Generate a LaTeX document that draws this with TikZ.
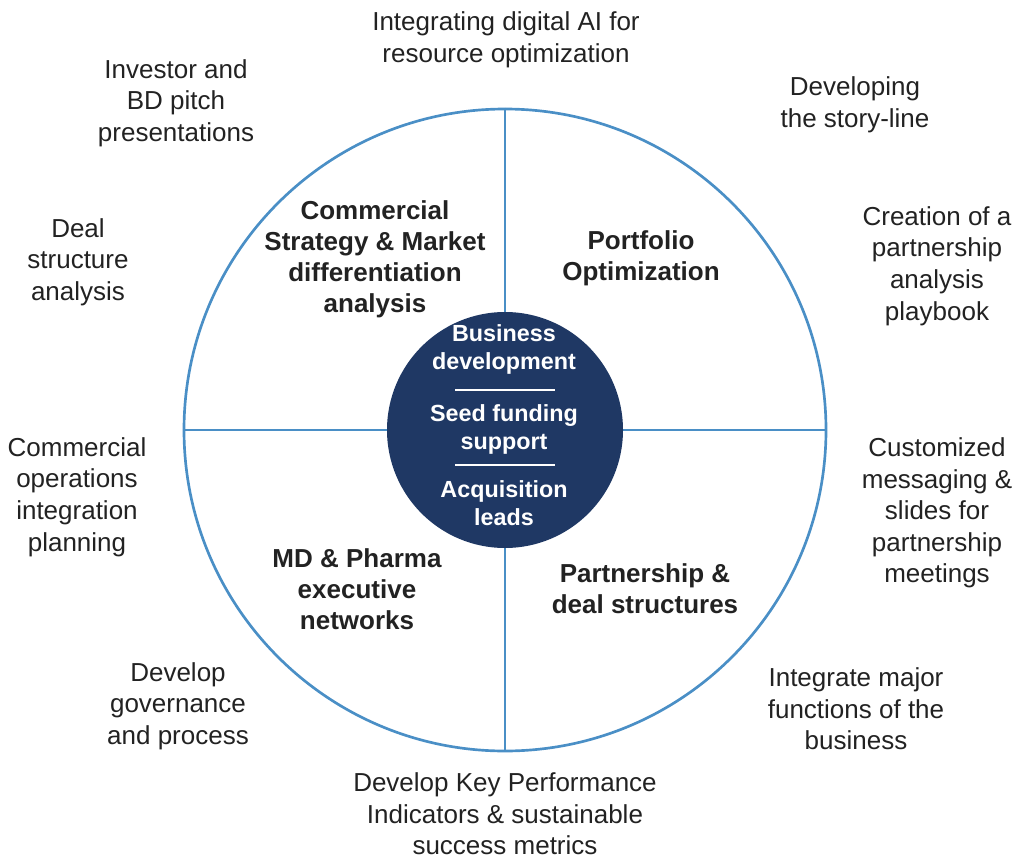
\documentclass[tikz,border=0pt]{standalone}
\usepackage{fontspec}
\setmainfont{Liberation Sans}
\definecolor{ringblue}{HTML}{4A8FC6}
\definecolor{hubnavy}{HTML}{1F3864}
\definecolor{txtgray}{HTML}{222222}
\begin{document}
\begin{tikzpicture}[x=0.75pt, y=-0.75pt,
  outer/.style={align=center, text=txtgray, font=\fontsize{19.5}{23.7}\selectfont},
  quad/.style={align=center, text=txtgray, font=\fontsize{19.5}{23.3}\selectfont\bfseries},
  hub/.style={align=center, text=white, font=\fontsize{17.5}{21}\selectfont\bfseries}]
\useasboundingbox (0,0) rectangle (1014,856);
\node[circle, draw=ringblue, line width=2pt, minimum size=481.5pt] (ring) at (505,430){};
\draw[ringblue, line width=2pt](ring.north) -- (ring.south);
\draw[ringblue, line width=2pt](ring.west) -- (ring.east);
\node[circle, fill=hubnavy, minimum size=177pt] (hub) at (505,430){};
\node[hub] (hub1) at (504,349){Business\\development};
\node[hub] (hub2) at (504,429){Seed funding\\support};
\node[hub] (hub3) at (504,503){Acquisition\\leads};
\coordinate (div1l) at (455,390);
\coordinate (div1r) at (555,390);
\coordinate (div2l) at (455,465);
\coordinate (div2r) at (555,465);
\draw[white, line width=1.5pt](div1l) -- (div1r);
\draw[white, line width=1.5pt](div2l) -- (div2r);
\node[quad] (q1) at (375,259){Commercial\\Strategy \& Market\\differentiation\\analysis};
\node[quad] (q2) at (641,258){Portfolio\\Optimization};
\node[quad] (q3) at (357,589){MD \& Pharma\\executive\\networks};
\node[quad] (q4) at (645,589){Partnership \&\\deal structures};
\node[outer] (o1) at (506,40){Integrating digital AI for\\resource optimization};
\node[outer] (o2) at (855,105){Developing\\the story-line};
\node[outer] (o3) at (937,266){Creation of a\\partnership\\analysis\\playbook};
\node[outer] (o4) at (937,513){Customized\\messaging \&\\slides for\\partnership\\meetings};
\node[outer] (o5) at (856,709){Integrate major\\functions of the\\business};
\node[outer] (o6) at (505,814){Develop Key Performance\\Indicators \& sustainable\\success metrics};
\node[outer] (o7) at (178,706){Develop\\governance\\and process};
\node[outer] (o8) at (77,497){Commercial\\operations\\integration\\planning};
\node[outer] (o9) at (78,262){Deal\\structure\\analysis};
\node[outer] (o10) at (176,103){Investor and\\BD pitch\\presentations};
\end{tikzpicture}
\end{document}
